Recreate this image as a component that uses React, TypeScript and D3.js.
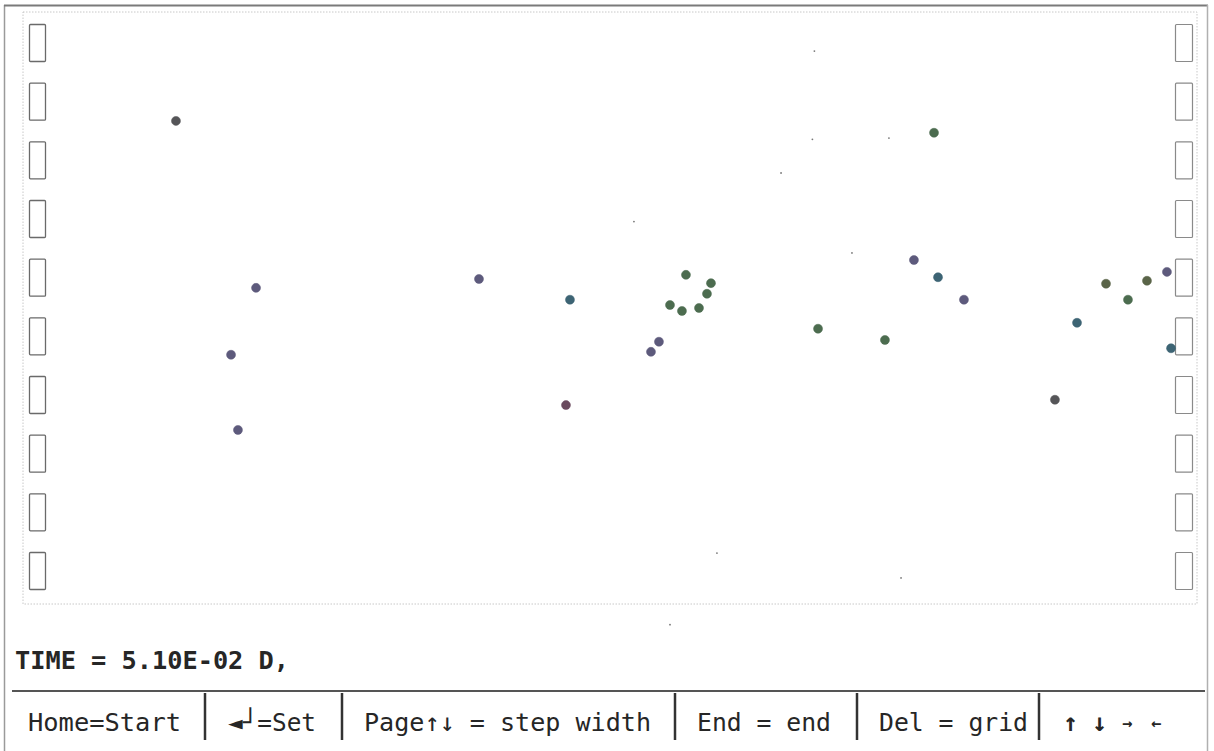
import React from "react";
import * as d3 from "d3";

// ---- data (x in 0..1000, y in 0..100) ----
const purpleX = [198.5, 177.2, 183.1, 388.4, 534.9, 541.7, 758.9, 801.5, 974.4];
const purpleY = [53.4, 42.1, 29.4, 54.9, 42.6, 44.3, 58.1, 51.4, 56.1];
const greenX = [551.1, 561.3, 564.7, 575.8, 582.6, 586.0, 677.2, 734.2, 776.0, 941.2];
const greenY = [50.5, 49.5, 55.6, 50.0, 52.4, 54.2, 46.5, 44.6, 79.6, 51.4];
const tealX = [465.9, 779.4, 897.8, 977.9];
const tealY = [51.4, 55.2, 47.5, 43.2];
const oliveX = [922.5, 957.4];
const oliveY = [54.1, 54.6];
const grayX = [130.3, 879.0];
const grayY = [81.6, 34.5];
const maroonX = [462.5];
const maroonY = [33.6];
const speckX = [674.1, 672.4, 737.6, 645.7, 706.1, 520.4, 591.1, 747.9, 551.1];
const speckY = [93.4, 78.5, 78.7, 72.8, 59.3, 64.6, 8.6, 4.4, -3.5];

const boxRows = ["1", "2", "3", "4", "5", "6", "7", "8", "9", "10"];
const timeLabel = "TIME = 5.10E-02 D,";
const menuItems = ["Home=Start", "\u25C4\u2518=Set", "Page\u2191\u2193 = step width", "End = end", "Del = grid"];

const seriesList = [
  { xs: purpleX, ys: purpleY, color: "#5d5a7c" },
  { xs: greenX, ys: greenY, color: "#4c6c4f" },
  { xs: tealX, ys: tealY, color: "#3d6474" },
  { xs: oliveX, ys: oliveY, color: "#5a6448" },
  { xs: grayX, ys: grayY, color: "#555558" },
  { xs: maroonX, ys: maroonY, color: "#6a4a5e" },
];

export default function App() {
  const W = 1214, H = 751;
  const x = d3.scaleLinear().domain([0, 1000]).range([23, 1197]);
  const y = d3.scaleLinear().domain([0, 100]).range([604, 12]);
  const rowScale = d3.scalePoint<string>().domain(boxRows).range([43, 571]);
  const font = "'DejaVu Sans Mono', 'Liberation Mono', monospace";
  const textColor = "#262626";
  const menuX = [28, 228, 364, 697, 879];
  const menuW = [153, 88, 287, 134, 149];
  const seps = [205, 342, 675, 857, 1039];

  return (
    <svg width={W} height={H} style={{ position: "absolute", left: 0, top: 0, background: "#fff" }}>
      <rect x={0} y={0} width={W} height={H} fill="#fff" />
      {/* outer frame */}
      <line x1={4.5} y1={5} x2={4.5} y2={H} stroke="#9a9a9a" strokeWidth={1.5} />
      <line x1={4} y1={5.5} x2={1208} y2={5.5} stroke="#7a7a7a" strokeWidth={2} />
      <line x1={1207.5} y1={5} x2={1207.5} y2={H} stroke="#b0b0b0" strokeWidth={1.5} />
      {/* inner dotted plot box */}
      <rect x={x(0)} y={y(100)} width={x(1000) - x(0)} height={y(0) - y(100)} fill="none"
        stroke="#c8c8c8" strokeWidth={1} strokeDasharray="1.5,1.5" />
      {/* side boxes */}
      {boxRows.map((r) => (
        <g key={r}>
          <rect x={29.5} y={(rowScale(r) as number) - 18.5} width={16} height={37} fill="none"
            stroke="#6a6a6a" strokeWidth={1.3} rx={1} />
          <rect x={1175.5} y={(rowScale(r) as number) - 18.5} width={17} height={37} fill="none"
            stroke="#8a8a8a" strokeWidth={1.2} rx={1} />
        </g>
      ))}
      {/* specks */}
      {speckX.map((v, i) => (
        <circle key={"s" + i} cx={x(v)} cy={y(speckY[i])} r={0.9} fill="#777" />
      ))}
      {/* points */}
      {seriesList.map((s, si) =>
        s.xs.map((v, i) => (
          <circle key={si + "-" + i} cx={x(v)} cy={y(s.ys[i])} r={4.5} fill={s.color}
            stroke={s.color} strokeOpacity={0.5} strokeWidth={1} />
        ))
      )}
      {/* time label */}
      <text x={15} y={669} fontFamily={font} fontSize={25} fontWeight="bold" fill={textColor}
        textLength={274} lengthAdjust="spacingAndGlyphs">{timeLabel}</text>
      {/* menu bar */}
      <line x1={12} y1={691} x2={1205} y2={691} stroke="#555" strokeWidth={2} />
      {seps.map((sx) => (
        <line key={sx} x1={sx} y1={693} x2={sx} y2={740} stroke="#333" strokeWidth={2.5} />
      ))}
      {menuItems.map((m, i) => (
        <text key={m} x={menuX[i]} y={731} fontFamily={font} fontSize={25} fill={textColor}
          textLength={menuW[i]} lengthAdjust="spacingAndGlyphs">{m}</text>
      ))}
      <text x={1063} y={731} fontFamily={font} fontSize={25} fontWeight="bold" fill={textColor}>
        <tspan>{"\u2191"}</tspan>
        <tspan x={1092}>{"\u2193"}</tspan>
        <tspan x={1122} fontSize={17} dy={-2}>{"\u2192"}</tspan>
        <tspan x={1151} fontSize={17}>{"\u2190"}</tspan>
      </text>
    </svg>
  );
}
